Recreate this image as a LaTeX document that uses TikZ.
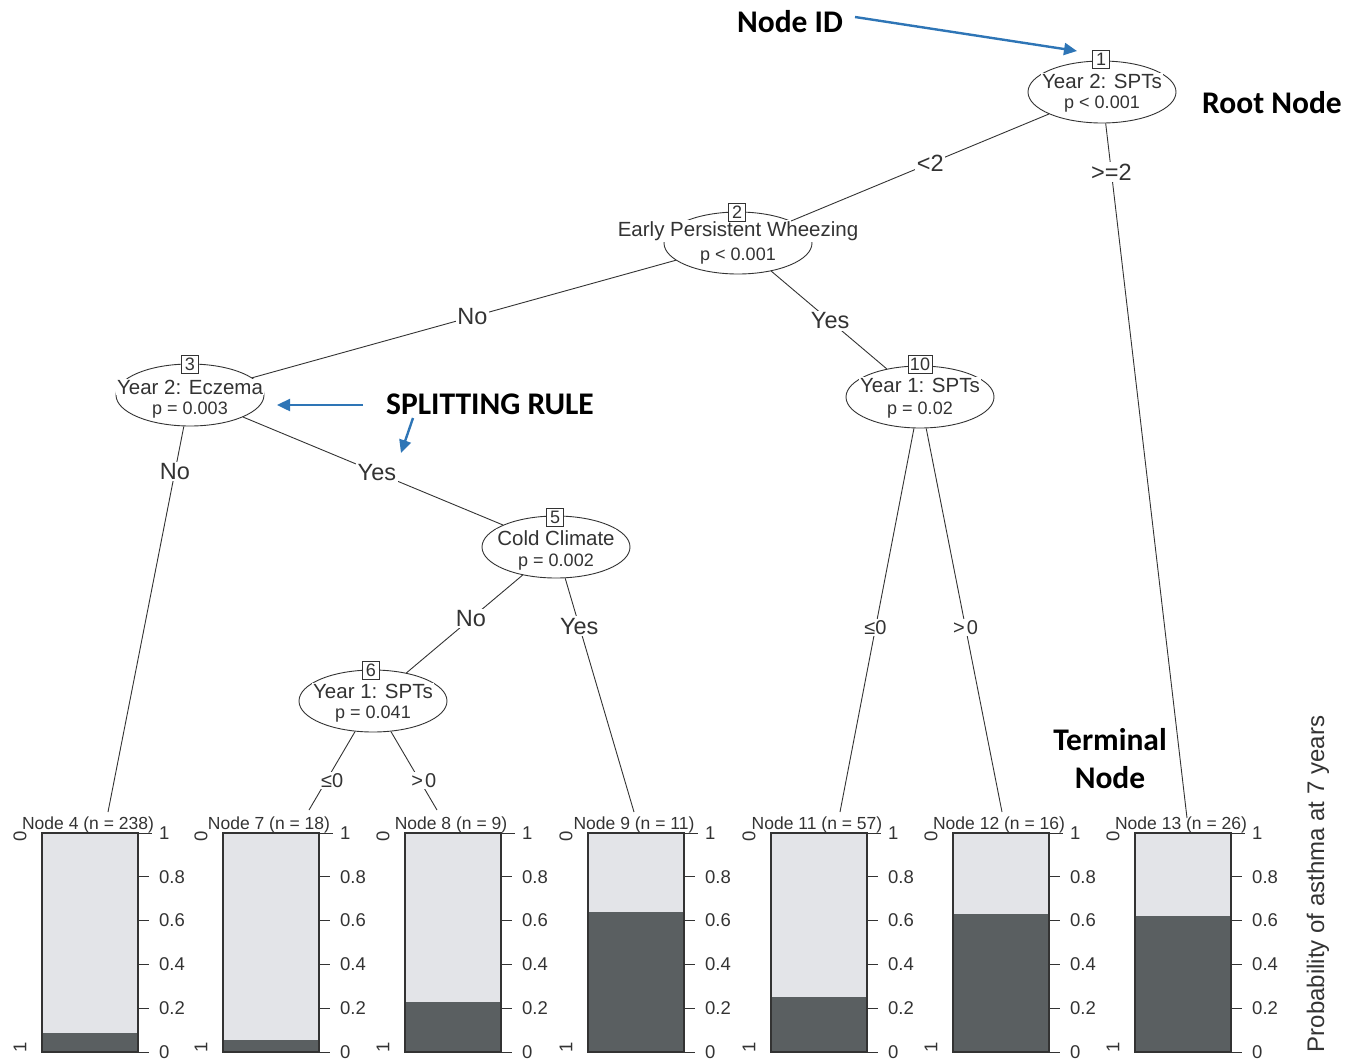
\documentclass[tikz,border=0pt]{standalone}
\usepackage{fontspec}
\setmainfont{Liberation Sans}
\newfontfamily\annfont{Carlito}
\usetikzlibrary{arrows.meta,shapes.geometric}
\definecolor{ink}{HTML}{333333}
\definecolor{lightbar}{HTML}{E3E4E8}
\definecolor{darkbar}{HTML}{5A5F61}
\definecolor{annblue}{HTML}{2E75B6}
\begin{document}
\begin{tikzpicture}[x=1pt,y=-1pt,
  ell/.style={draw=ink,line width=0.9pt,ellipse,minimum width=148pt,minimum height=62pt,inner sep=0pt},
  tt/.style={fill=white,inner sep=1pt,text=ink,font=\fontsize{20.5}{22}\selectfont},
  pt/.style={fill=white,inner sep=1pt,text=ink,font=\fontsize{18}{20}\selectfont},
  idbox/.style={draw=ink,line width=0.9pt,fill=white,inner sep=0pt,inner xsep=2pt,minimum width=17pt,minimum height=18pt,text=ink,font=\fontsize{18}{18}\selectfont},
  edge/.style={draw=ink,line width=0.9pt},
  elab/.style={fill=white,inner sep=1.5pt,text=ink,font=\fontsize{23.5}{24}\selectfont},
  slab/.style={fill=white,inner sep=1.5pt,text=ink,font=\fontsize{20}{20}\selectfont},
  axlab/.style={text=ink,font=\fontsize{18.5}{19}\selectfont,inner sep=0pt},
  ttl/.style={text=ink,font=\fontsize{17.5}{18}\selectfont,inner sep=0pt},
  ann/.style={text=black,font=\annfont\bfseries\fontsize{31.5}{38}\selectfont,align=center},
  annarrow/.style={draw=annblue,line width=2.4pt,-{Triangle[length=13pt,width=12pt]}}
]
\useasboundingbox (0,0) rectangle (1355,1061);

% ---------- inner nodes ----------
\node[ell] (n1) at (1102,92) {};
\node[ell] (n2) at (738,243) {};
\node[ell] (n3) at (190,395) {};
\node[ell] (n5) at (556,547) {};
\node[ell] (n6) at (373,701) {};
\node[ell] (n10) at (920,397) {};

\node[tt] (n1a) at (1102,81) {Year 2: SPTs};
\node[pt] (n1b) at (1102,104) {p < 0.001};
\node[tt] (n2a) at (738,231) {Early Persistent Wheezing};
\node[pt] (n2b) at (738,256) {p < 0.001};
\node[tt] (n3a) at (190,387) {Year 2: Eczema};
\node[pt] (n3b) at (190,410) {p = 0.003};
\node[tt] (n5a) at (556,538) {Cold Climate};
\node[pt] (n5b) at (556,562) {p = 0.002};
\node[tt] (n6a) at (373,691) {Year 1: SPTs};
\node[pt] (n6b) at (373,714) {p = 0.041};
\node[tt] (n10a) at (920,385) {Year 1: SPTs};
\node[pt] (n10b) at (920,410) {p = 0.02};

\node[idbox] (id1) at (1101,59) {1};
\node[idbox] (id2) at (737,212) {2};
\node[idbox] (id3) at (190,364) {3};
\node[idbox] (id5) at (555,517) {5};
\node[idbox] (id6) at (371,670) {6};
\node[idbox] (id10) at (920,364) {10};

% ---------- terminal end points ----------
\coordinate (e4) at (108,812);
\coordinate (e7) at (309,810);
\coordinate (e8) at (437,810);
\coordinate (e9) at (634,812);
\coordinate (e11) at (840,812);
\coordinate (e12) at (1002,812);
\coordinate (e13) at (1187,818);

% ---------- edges ----------
\draw[edge] (n1) -- node[elab,pos=0.46]{<2} (n2);
\draw[edge] (n1) -- node[elab,pos=0.07]{>=2} (e13);
\draw[edge] (n2) -- node[elab,pos=0.48]{No} (n3);
\draw[edge] (n2) -- node[elab,pos=0.51]{Yes} (n10);
\draw[edge] (n3) -- node[elab,pos=0.117]{No} (e4);
\draw[edge] (n3) -- node[elab,pos=0.515]{Yes} (n5);
\draw[edge] (n5) -- node[elab,pos=0.444]{No} (n6);
\draw[edge] (n5) -- node[elab,pos=0.205]{Yes} (e9);
\draw[edge] (n6) -- node[slab,pos=0.625,xshift=6pt]{≤0} (e7);
\draw[edge] (n6) -- node[slab,pos=0.625,xshift=4pt]{>\kern2pt0} (e8);
\draw[edge] (n10) -- node[slab,pos=0.52]{≤0} (e11);
\draw[edge] (n10) -- node[slab,pos=0.52]{>\kern2pt0} (e12);

% ---------- terminal panels ----------
\foreach \L/\k/\n/\top in {42/4/238/1033, 223/7/18/1040, 405/8/9/1002, 588/9/11/912, 771/11/57/997, 953/12/16/914, 1135/13/26/916}{
  \fill[lightbar] (\L,833) rectangle (\L+96,1052);
  \fill[darkbar] (\L,\top) rectangle (\L+96,1052);
  \draw[ink,line width=1.2pt] (\L,833) rectangle (\L+96,1052);
  \draw[ink,line width=1pt] (\L+96,833) -- (\L+110,833);
  \node[ttl,anchor=base] (title\k) at (\L+46,829) {Node \k\ (n = \n)};
  \node[axlab,rotate=90] (zero\k) at (\L-22,836) {0};
  \node[axlab,rotate=90] (one\k) at (\L-22,1047) {1};
  \foreach \v/\lab in {0/0,0.2/0.2,0.4/0.4,0.6/0.6,0.8/0.8,1/1}{
    \draw[ink,line width=1pt] (\L+96,1052-219*\v) -- (\L+107,1052-219*\v);
    \node[axlab,anchor=west] at (\L+117,1052-219*\v) {\lab};
  }
}

\node[text=ink,font=\fontsize{24}{24}\selectfont,rotate=90] (ylab) at (1318,884) {Probability of asthma at 7 years};

% ---------- annotations ----------
\node[ann] (aid) at (790,22) {Node ID};
\node[ann] (aroot) at (1272,103) {Root Node};
\node[ann] (asplit) at (490,404) {SPLITTING RULE};
\node[ann] (aterm) at (1110,759) {Terminal\\Node};

\coordinate (aidstart) at (855,17);
\coordinate (aidtip) at (1077,51);
\coordinate (sp1start) at (363,405);
\coordinate (sp1tip) at (277,405);
\coordinate (sp2start) at (413,418);
\coordinate (sp2tip) at (401,453);
\draw[annarrow] (aidstart) -- (aidtip);
\draw[annarrow] (sp1start) -- (sp1tip);
\draw[annarrow] (sp2start) -- (sp2tip);
\end{tikzpicture}
\end{document}
